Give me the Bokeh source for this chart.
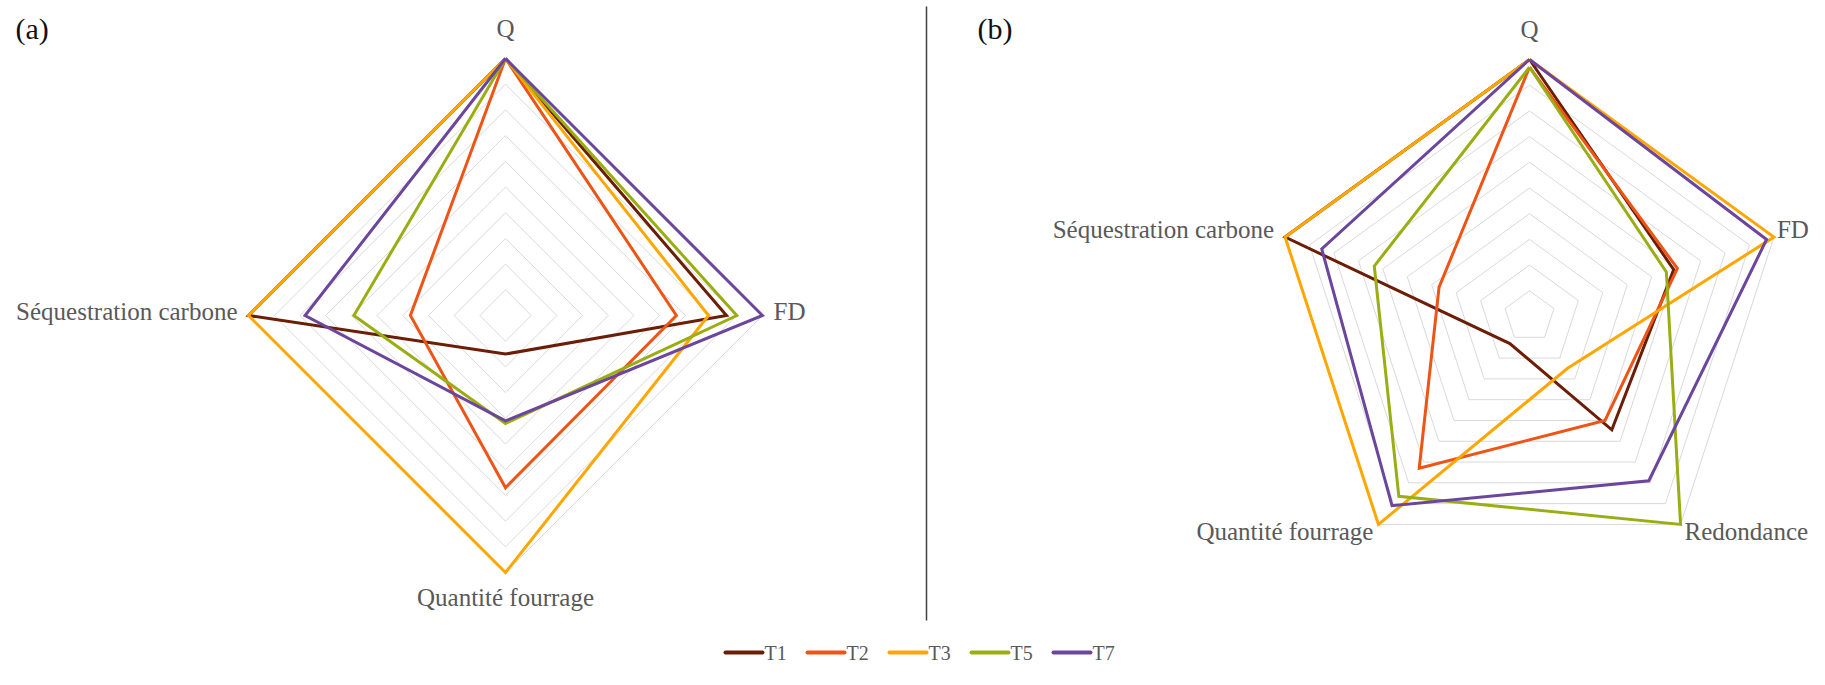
import math
from bokeh.plotting import figure
from bokeh.models import Range1d
from bokeh.core.properties import value
from bokeh.embed import file_html
from bokeh.resources import INLINE

# ---------------- data ----------------
series = ["T1", "T2", "T3", "T5", "T7"]
colors = ["#6B1E05", "#EE5416", "#FFA600", "#9AAE14", "#6C459C"]

axes_a = ["Q", "FD", "Quantité fourrage", "Séquestration carbone"]
a_T1 = [1.00, 0.86, 0.15, 1.00]
a_T2 = [1.00, 0.665, 0.67, 0.37]
a_T3 = [1.00, 0.79, 1.00, 1.00]
a_T5 = [1.00, 0.90, 0.42, 0.59]
a_T7 = [1.00, 1.00, 0.41, 0.78]

axes_b = ["Q", "FD", "Redondance", "Quantité fourrage", "Séquestration carbone"]
b_T1 = [1.00, 0.59, 0.545, 0.13, 1.00]
b_T2 = [0.97, 0.605, 0.50, 0.73, 0.37]
b_T3 = [1.00, 1.00, 0.25, 1.00, 1.00]
b_T5 = [0.97, 0.56, 1.00, 0.865, 0.635]
b_T7 = [1.00, 0.97, 0.79, 0.91, 0.85]

grid_levels = [0.1, 0.2, 0.3, 0.4, 0.5, 0.6, 0.7, 0.8, 0.9, 1.0]
panel_labels = ["(a)", "(b)"]

# ---------------- layout ----------------
W, H = 1809, 669
p = figure(width=W, height=H, x_range=Range1d(0, W), y_range=Range1d(H, 0),
           output_backend="svg", toolbar_location=None,
           x_axis_location=None, y_axis_location=None, min_border=0)
p.grid.visible = False
p.outline_line_color = None
p.background_fill_color = "white"
p.border_fill_color = "white"

FONT = value("Liberation Serif")
LABEL_COLOR = "#595959"


def radar_xy(vals, cx, cy, R):
    n = len(vals)
    xs = [cx + v * R * math.sin(2 * math.pi * i / n) for i, v in enumerate(vals)]
    ys = [cy - v * R * math.cos(2 * math.pi * i / n) for i, v in enumerate(vals)]
    return xs + [xs[0]], ys + [ys[0]]


def draw_radar(cx, cy, R, axes, data, right_pad, low_right_pad):
    n = len(axes)
    # grid rings
    gx, gy = [], []
    for lv in grid_levels:
        xs, ys = radar_xy([lv] * n, cx, cy, R)
        gx.append(xs)
        gy.append(ys)
    p.multi_line(gx, gy, line_color="#D9D9D9", line_width=1)
    # series
    for vals, col in zip(data, colors):
        xs, ys = radar_xy(vals, cx, cy, R)
        p.line(xs, ys, line_color=col, line_width=3, line_join="miter")
    # axis labels
    for i, name in enumerate(axes):
        ang = 2 * math.pi * i / n
        sx, sy = math.sin(ang), -math.cos(ang)
        vx, vy = cx + R * sx, cy + R * sy
        if abs(sx) < 1e-6:
            align = "center"
            if sy < 0:
                tx, ty, base = vx, vy - 30, "alphabetic"
            else:
                tx, ty, base = vx, vy + 11, "top"
        else:
            align = "left" if sx > 0 else "right"
            if sy > 0.5:
                dy = 7
                dx = low_right_pad if sx > 0 else -5
            elif sy < -0.1:
                dy = -8
                dx = right_pad if sx > 0 else -11
            else:
                dy = -4
                dx = right_pad if sx > 0 else -11
            tx, ty, base = vx + dx, vy + dy, "middle"
        p.text(x=[tx], y=[ty], text=[name], text_font=FONT, text_font_size="25px",
               text_color=LABEL_COLOR, text_align=align, text_baseline=base)


R = 257
draw_radar(505, 315, R, axes_a, [a_T1, a_T2, a_T3, a_T5, a_T7], 11, 8)
draw_radar(1529, 316, R, axes_b, [b_T1, b_T2, b_T3, b_T5, b_T7], 3, 4)

# panel tags
p.text(x=[15, 977], y=[28, 28], text=panel_labels, text_font=FONT, text_font_size="30px",
       text_color="#111111", text_align="left", text_baseline="middle")

# separator
p.segment(x0=[926], y0=[6], x1=[926], y1=[620], line_color="#404040", line_width=1.5)

# legend (horizontal, bottom centre)
LX0, PITCH, GL = 725, 82, 37
lx = [LX0 + i * PITCH for i in range(len(series))]
p.segment(x0=lx, y0=[652] * len(lx), x1=[x + GL for x in lx], y1=[652] * len(lx),
          line_color=colors, line_width=4, line_cap="round")
p.text(x=[x + GL + 2 for x in lx], y=[652] * len(lx), text=series, text_font=FONT,
       text_font_size="20px", text_color=LABEL_COLOR, text_align="left",
       text_baseline="middle")

open("out.html", "w").write(file_html(p, INLINE))
